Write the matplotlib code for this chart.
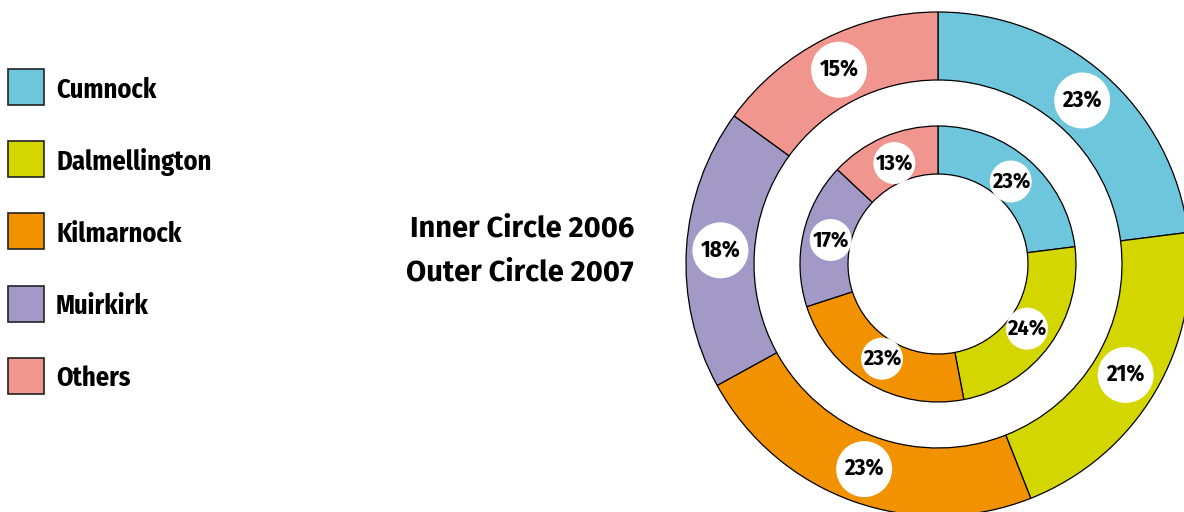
import matplotlib
matplotlib.use('Agg')
import matplotlib.pyplot as plt
from matplotlib.patches import Rectangle, Circle
import numpy as np

# data
towns = ['Cumnock', 'Dalmellington', 'Kilmarnock', 'Muirkirk', 'Others']
share_2006 = [23, 24, 23, 17, 13]   # inner circle
share_2007 = [23, 21, 23, 18, 15]   # outer circle
colors = ['#6EC6DC', '#D4D600', '#F29200', '#A299C6', '#F0968E']

narrow = ['Fira Sans Condensed', 'Roboto Condensed', 'Roboto', 'DejaVu Sans']
title_font = ['Fira Sans', 'Open Sans', 'DejaVu Sans']

fig = plt.figure(figsize=(11.84, 5.12), dpi=100)
ax = fig.add_axes([0, 0, 1, 1])

cx, cy = 938, 248
r_out, w_out = 252, 68
r_in, w_in = 138, 48
edge = dict(edgecolor='black', linewidth=0.9)

outer, _ = ax.pie(share_2007, colors=colors, radius=r_out, center=(cx, cy),
                  startangle=90, counterclock=False, frame=True,
                  wedgeprops=dict(width=w_out, **edge))
inner, _ = ax.pie(share_2006, colors=colors, radius=r_in, center=(cx, cy),
                  startangle=90, counterclock=False, frame=True,
                  wedgeprops=dict(width=w_in, **edge))
ax.set_xlim(0, 1184)
ax.set_ylim(0, 512)
ax.set_aspect('equal')
ax.axis('off')


def add_labels(wedges, vals, r_lab, r_dot, fs):
    for w, v in zip(wedges, vals):
        ang = np.deg2rad((w.theta1 + w.theta2) / 2)
        x = cx + r_lab * np.cos(ang)
        y = cy + r_lab * np.sin(ang)
        ax.add_patch(Circle((x, y), r_dot, facecolor='white', edgecolor='none', zorder=3))
        ax.text(x, y, '{}%'.format(v), ha='center', va='center', fontsize=fs,
                fontweight='bold', family=narrow, zorder=4)


add_labels(outer, share_2007, 218, 28, 16.5)
add_labels(inner, share_2006, 110, 21, 16)

# legend
for i, (t, c) in enumerate(zip(towns, colors)):
    yc = 512 - (87 + i * 72.2)
    ax.add_patch(Rectangle((8, yc - 18), 36, 36, facecolor=c, edgecolor='#222222', linewidth=1.2))
    ax.text(56, yc - 3, t, ha='left', va='center', fontsize=19, fontweight='bold', family=narrow)

ax.text(634, 512 - 229, 'Inner Circle 2006', ha='right', va='center', fontsize=21,
        fontweight='bold', family=title_font)
ax.text(634, 512 - 273, 'Outer Circle 2007', ha='right', va='center', fontsize=21,
        fontweight='bold', family=title_font)

fig.savefig('out.png', dpi=100, facecolor='white')
